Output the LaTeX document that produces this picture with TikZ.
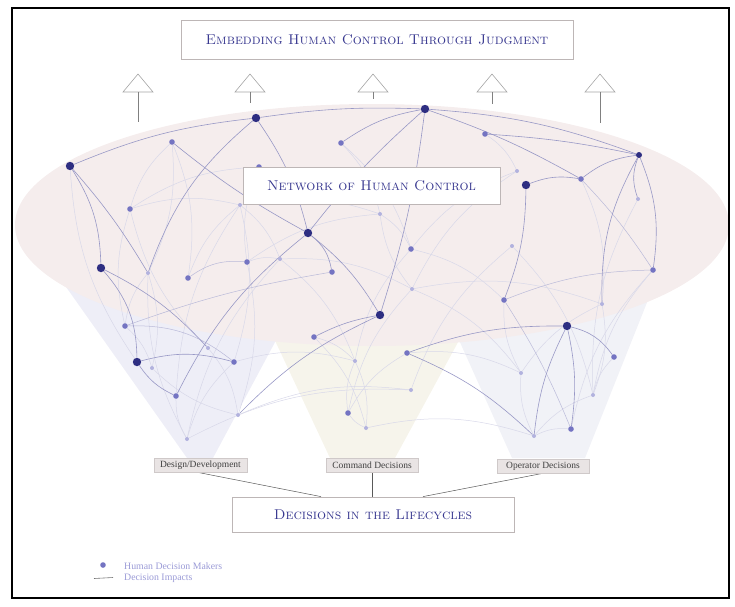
\documentclass[tikz,border=0pt]{standalone}
\usepackage{fontspec}
\newfontfamily\labfont{Liberation Serif}
\definecolor{titleblue}{HTML}{383890}
\definecolor{ellfill}{HTML}{F5EDED}
\definecolor{coneA}{HTML}{EEEEF7}
\definecolor{coneB}{HTML}{F6F4EB}
\definecolor{coneC}{HTML}{F1F2F7}
\definecolor{nodedark}{HTML}{2E2E82}
\definecolor{nodemed}{HTML}{7474C2}
\definecolor{nodelight}{HTML}{B2B2DE}
\definecolor{edgedark}{HTML}{9898C6}
\definecolor{edgemid}{HTML}{BABAD9}
\definecolor{edgefaint}{HTML}{D8D8E9}
\definecolor{boxline}{HTML}{BDB6B6}
\definecolor{labfill}{HTML}{E9E4E4}
\definecolor{labline}{HTML}{CFC9C9}
\definecolor{legtext}{HTML}{9A9AD6}
\pgfdeclarelayer{back}
\pgfdeclarelayer{edges}
\pgfdeclarelayer{front}
\pgfsetlayers{back,edges,main,front}
\begin{document}
\begin{tikzpicture}[x=1pt,y=-1pt,
  big/.style={circle,fill=nodedark,inner sep=0pt,minimum size=8.4pt},
  bigs/.style={circle,fill=nodedark,inner sep=0pt,minimum size=6pt},
  med/.style={circle,fill=nodemed,inner sep=0pt,minimum size=5.6pt},
  sml/.style={circle,fill=nodelight,inner sep=0pt,minimum size=4pt},
  dk/.style={draw=edgedark,line width=0.6pt},
  md/.style={draw=edgemid,line width=0.5pt},
  ft/.style={draw=edgefaint,line width=0.5pt},
  headbox/.style={draw=boxline,line width=0.8pt,fill=white,inner sep=0pt,text=titleblue,font=\fontsize{14.2}{17}\selectfont\scshape},
  labbox/.style={draw=labline,line width=0.6pt,fill=labfill,inner sep=0pt,minimum height=14pt,text=black!75,font=\labfont\fontsize{9.5}{11}\selectfont},
  tri/.style={draw=black!35,line width=0.6pt,fill=white},
  stem/.style={draw=black!50,line width=0.7pt},
  link/.style={draw=black!65,line width=0.5pt}
]
\useasboundingbox (0,0) rectangle (735,606);
\draw[line width=1.6pt] (12,8) rectangle (729,598);

% background regions
\begin{pgfonlayer}{back}
\fill[coneA] (47,260) -- (187,458) -- (213,458) -- (319,260) -- cycle;
\fill[coneB] (256,300) -- (330,458) -- (395,458) -- (481,300) -- cycle;
\fill[coneC] (432,280) -- (512,458) -- (585,458) -- (656,280) -- cycle;
\fill[ellfill] (372,225) ellipse [x radius=357pt, y radius=121pt];
\end{pgfonlayer}

% triangles
\foreach \tx/\te in {138/122,250/103,373/99,492/104,600/123}{
  \draw[tri] (\tx-15,92) -- (\tx,74) -- (\tx+15,92) -- cycle;
  \draw[stem] (\tx,92) -- (\tx,\te);
}

% nodes
\node[big] (A) at (256,118) {};
\node[big] (B) at (425,109) {};
\node[big] (C) at (70,166) {};
\node[big] (D) at (308,233) {};
\node[big] (E) at (101,268) {};
\node[big] (F) at (380,315) {};
\node[big] (G) at (526,185) {};
\node[big] (H) at (567,326) {};
\node[big] (I) at (137,362) {};
\node[bigs] (J) at (639,155) {};

\node[med] (m1) at (172,142) {};
\node[med] (m2) at (341,143) {};
\node[med] (m3) at (259,167) {};
\node[med] (m4) at (130,209) {};
\node[med] (m5) at (188,278) {};
\node[med] (m6) at (247,262) {};
\node[med] (m7) at (332,272) {};
\node[med] (m8) at (125,326) {};
\node[med] (m9) at (314,337) {};
\node[med] (m10) at (234,362) {};
\node[med] (m11) at (176,396) {};
\node[med] (m12) at (348,413) {};
\node[med] (m13) at (485,134) {};
\node[med] (m14) at (581,179) {};
\node[med] (m15) at (411,249) {};
\node[med] (m16) at (653,270) {};
\node[med] (m17) at (504,300) {};
\node[med] (m18) at (407,353) {};
\node[med] (m19) at (614,357) {};
\node[med] (m20) at (571,429) {};

\node[sml] (s1) at (240,205) {};
\node[sml] (s2) at (148,273) {};
\node[sml] (s3) at (280,259) {};
\node[sml] (s4) at (380,214) {};
\node[sml] (s5) at (517,171) {};
\node[sml] (s6) at (638,199) {};
\node[sml] (s7) at (512,246) {};
\node[sml] (s8) at (412,289) {};
\node[sml] (s9) at (602,304) {};
\node[sml] (s10) at (208,348) {};
\node[sml] (s11) at (152,368) {};
\node[sml] (s12) at (238,415) {};
\node[sml] (s13) at (187,439) {};
\node[sml] (s14) at (355,361) {};
\node[sml] (s15) at (366,428) {};
\node[sml] (s16) at (411,390) {};
\node[sml] (s17) at (521,373) {};
\node[sml] (s18) at (593,395) {};
\node[sml] (s19) at (534,436) {};

% edges
\begin{pgfonlayer}{edges}
% faint
\foreach \a/\b/\bd in {m1/m4/right, m1/m5/left, m4/s1/left, m4/s10/right, m4/m8/right, m4/m3/left,
  s1/m5/right, s1/m10/left, s1/m11/right, s1/s4/left, C/I/right, s2/s11/left, s2/s13/right,
  m6/s12/left, s3/s13/right, s3/s14/left, s3/s8/left, s4/s8/right, s4/m6/right, s8/m12/right,
  s8/s17/left, s8/s9/left, m13/s5/left, s5/s8/right, s5/m15/right, s7/s16/right, s7/s18/left,
  s6/s18/right, m16/s18/right, m16/m20/right, s9/s17/right, s14/m12/right, s14/s15/left,
  s15/s19/left, s13/s16/left, s11/s12/right, s10/s12/left, s16/s12/right, m11/s13/right,
  m10/s13/right, m10/s14/left, m9/s15/left, m18/m12/right, m18/s17/left, s17/s19/right,
  s18/s19/right, m15/s14/right, m15/m17/left, m15/s4/right, m2/s4/left, m2/m15/left,
  m3/m6/right, m14/s9/left, m1/s2/left, s1/s3/left, m6/s3/left, s2/m8/right, m8/s11/left,
  m12/s15/right, m9/s14/left, m17/s17/right, s9/s18/left, m20/s19/right, m19/s18/right}{
  \draw[ft] (\a) to[bend \bd=15] (\b);
}
% intermediate
\draw[md] (m17) to[bend left=10] (m16);
\draw[md] (m8) to[bend left=5] (m7);
\draw[md] (m5) to[bend left=20] (m6);
\draw[md] (m14) to[bend left=5] (m16);
\draw[md] (m17) to[bend left=5] (m20);
\draw[md] (m8) to[bend left=20] (m10);
% dark
\draw[dk] (C) to[bend left=8] (A);
\draw[dk] (A) to[bend left=5] (B);
\draw[dk] (B) to[bend left=8] (J);
\draw[dk] (m13) to[bend left=4] (J);
\draw[dk] (B) to[bend left=5] (m14);
\draw[dk] (m14) to[bend left=15] (J);
\draw[dk] (G) to[bend left=15] (m14);
\draw[dk] (G) to[bend left=10] (m17);
\draw[dk] (J) to[bend left=15] (m16);
\draw[dk] (J) to[bend right=20] (s6);
\draw[dk] (J) to[bend right=15] (s9);
\draw[dk] (B) to[bend right=12] (m2);
\draw[dk] (B) to[bend right=5] (D);
\draw[dk] (B) to[bend left=5] (F);
\draw[dk] (A) to[bend left=10] (D);
\draw[dk] (A) to[bend right=15] (s2);
\draw[dk] (m1) to[bend right=5] (D);
\draw[dk] (C) to[bend left=15] (E);
\draw[dk] (C) to[bend left=5] (s2);
\draw[dk] (E) to[bend left=20] (I);
\draw[dk] (E) to[bend left=10] (s10);
\draw[dk] (I) to[bend left=15] (m10);
\draw[dk] (I) to[bend right=15] (m11);
\draw[dk] (m11) to[bend left=12] (D);
\draw[dk] (D) to[bend left=20] (m7);
\draw[dk] (D) to[bend left=10] (F);
\draw[dk] (F) to[bend right=8] (m9);
\draw[dk] (F) to[bend right=10] (s12);
\draw[dk] (m18) to[bend left=10] (H);
\draw[dk] (m18) to[bend left=10] (s19);
\draw[dk] (H) to[bend right=10] (s19);
\draw[dk] (H) to[bend left=10] (m20);
\draw[dk] (H) to[bend left=20] (m19);
\end{pgfonlayer}

% boxes
\begin{pgfonlayer}{front}
\node[headbox,minimum width=392pt,minimum height=39pt] (title) at (377,39.5) {Embedding Human Control Through Judgment};
\node[headbox,minimum width=257pt,minimum height=37pt] (net) at (371.5,185.5) {Network of Human Control};
\node[headbox,minimum width=282pt,minimum height=35pt] (life) at (373,514.5) {Decisions in the Lifecycles};
\node[labbox,minimum width=93pt] (design) at (200.5,465) {Design/Development};
\node[labbox,minimum width=92pt] (command) at (372,465) {Command Decisions};
\node[labbox,minimum width=92pt] (operator) at (543,466) {Operator Decisions};
\end{pgfonlayer}
\draw[link] ([xshift=-3pt]design.south) -- ([xshift=-52pt]life.north);
\draw[link] (command.south) -- (life.north -| command.south);
\draw[link] (operator.south) -- ([xshift=50pt]life.north);

% legend
\node[med] (legdot) at (103,565) {};
\node[anchor=west,text=legtext,inner sep=0pt,font=\labfont\fontsize{9.8}{11}\selectfont] (legA) at (124,566) {Human Decision Makers};
\coordinate (legL1) at (94,578.5);
\coordinate (legL2) at (113,577.5);
\draw[draw=black!55,line width=0.6pt] (legL1) -- (legL2);
\node[anchor=west,text=legtext,inner sep=0pt,font=\labfont\fontsize{9.8}{11}\selectfont] (legB) at (124,578) {Decision Impacts};
\end{tikzpicture}
\end{document}
